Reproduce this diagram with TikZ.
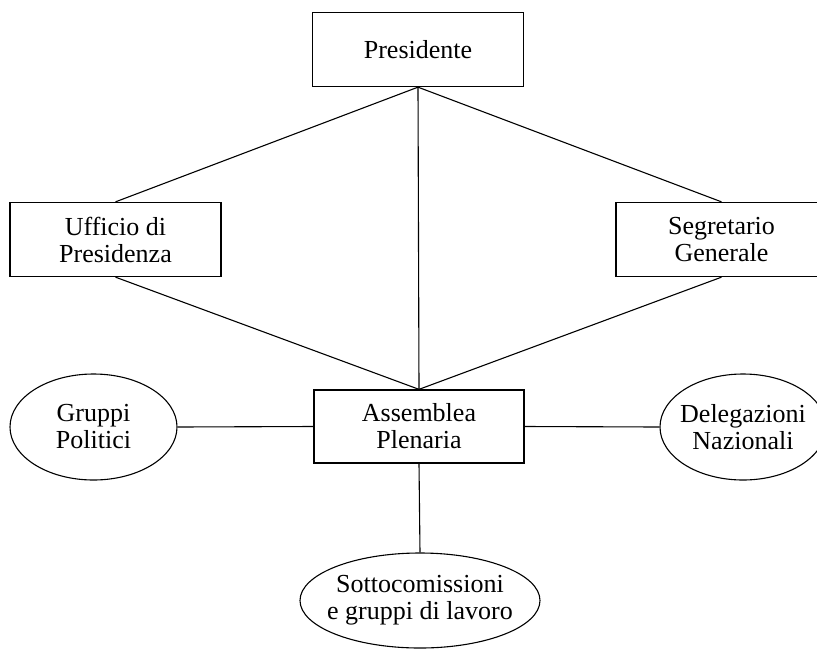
\documentclass[tikz,border=0pt]{standalone}
\usepackage{fontspec}
\setmainfont{Liberation Serif}
\usetikzlibrary{shapes.geometric}
\begin{document}
\begin{tikzpicture}[x=1pt,y=-1pt,
  every node/.style={align=center,font=\fontsize{26}{27}\selectfont,inner sep=0pt},
  box/.style={draw,line width=1.3pt,minimum width=211pt,minimum height=74pt},
  oval/.style={draw,ellipse,line width=1.1pt},
  link/.style={line width=1.1pt}]
\useasboundingbox (0,0) rectangle (817,649);
\node[box] (pres) at (418,49.5) {Presidente};
\node[box] (uff) at (115.5,239.5) {Ufficio di\\Presidenza};
\node[box] (seg) at (721.5,239.5) {Segretario\\Generale};
\node[box,minimum width=210pt,minimum height=73pt] (ass) at (419,426.5) {Assemblea\\Plenaria};
\node[oval,minimum width=167pt,minimum height=106pt] (grp) at (93.5,427) {Gruppi\\Politici};
\node[oval,inner xsep=-5pt,inner ysep=4pt,minimum width=166pt,minimum height=106pt] (del) at (743,427) {Delegazioni\\Nazionali};
\node[oval,inner xsep=-8pt,inner ysep=4pt,minimum width=240pt,minimum height=95pt] (sot) at (420,600.5) {Sottocomissioni\\e gruppi di lavoro};
\draw[link] (pres.south) -- (uff.north);
\draw[link] (pres.south) -- (seg.north);
\draw[link] (pres.south) -- (ass.north);
\draw[link] (uff.south) -- (ass.north);
\draw[link] (seg.south) -- (ass.north);
\draw[link] (grp.east) -- (ass.west);
\draw[link] (ass.east) -- (del.west);
\draw[link] (ass.south) -- (sot.north);
\end{tikzpicture}
\end{document}
